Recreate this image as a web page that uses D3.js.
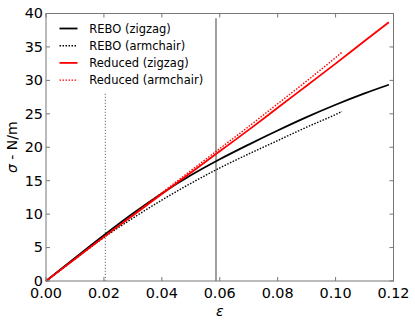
<!DOCTYPE html>
<html>
<head>
<meta charset="utf-8">
<script src="https://cdn.jsdelivr.net/npm/d3@7"></script>
<style>
  body { margin: 0; background: #fff; }
  text { font-family: "DejaVu Sans", sans-serif; }
</style>
</head>
<body>
<div id="chart"></div>
<script>
// strain values (x) and stress values (y)
var strainZigzag = [0, 0.01, 0.02, 0.03, 0.04, 0.05, 0.06, 0.07, 0.08, 0.09, 0.10, 0.11, 0.1184];
var reboZigzag = [0, 3.45, 6.85, 10.1, 13.1, 15.8, 18.2, 20.4, 22.5, 24.5, 26.35, 28.05, 29.35];
var reducedZigzag = [0, 3.3, 6.6, 9.8, 13.0, 16.2, 19.4, 22.6, 25.9, 29.2, 32.5, 35.9, 38.7];

var strainArmchair = [0, 0.01, 0.02, 0.03, 0.04, 0.05, 0.06, 0.07, 0.08, 0.09, 0.10, 0.1022];
var reboArmchair = [0, 3.3, 6.5, 9.4, 12.1, 14.6, 16.9, 19.0, 21.0, 23.0, 24.9, 25.35];
var reducedArmchair = [0, 3.3, 6.6, 9.9, 13.2, 16.5, 19.8, 23.1, 26.5, 29.9, 33.4, 34.2];

// vertical marker lines: [strain, top stress]
var markerDotted = [0.0205, 28.1];
var markerSolid = [0.0587, 39.3];

var xTicks = [0, 0.02, 0.04, 0.06, 0.08, 0.10, 0.12];
var yTicks = [0, 5, 10, 15, 20, 25, 30, 35, 40];

var series = [
  { name: "REBO (zigzag)", xs: strainZigzag, ys: reboZigzag, color: "#000", dash: null },
  { name: "REBO (armchair)", xs: strainArmchair, ys: reboArmchair, color: "#000", dash: "1.5,1.5" },
  { name: "Reduced (zigzag)", xs: strainZigzag, ys: reducedZigzag, color: "#f00", dash: null },
  { name: "Reduced (armchair)", xs: strainArmchair, ys: reducedArmchair, color: "#f00", dash: "1.5,1.5" }
];

var margin = { top: 13.5, right: 21.5, bottom: 44, left: 46 },
  width = 415 - margin.left - margin.right,
  height = 325 - margin.top - margin.bottom;

var x = d3.scaleLinear().domain([0, 0.12]).range([0, width]);
var y = d3.scaleLinear().domain([0, 40]).range([height, 0]);

var svg = d3.select("#chart").append("svg")
  .attr("width", 415)
  .attr("height", 325);

var g = svg.append("g")
  .attr("transform", "translate(" + margin.left + "," + margin.top + ")");

var line = d3.line()
  .x(function (d) { return x(d[0]); })
  .y(function (d) { return y(d[1]); })
  .curve(d3.curveMonotoneX);

// marker lines
g.append("line")
  .attr("x1", x(markerDotted[0])).attr("x2", x(markerDotted[0]))
  .attr("y1", y(0)).attr("y2", y(markerDotted[1]))
  .attr("stroke", "#888").attr("stroke-width", 1.2)
  .attr("stroke-dasharray", "1.2,1.8");
g.append("line")
  .attr("x1", x(markerSolid[0])).attr("x2", x(markerSolid[0]))
  .attr("y1", y(0)).attr("y2", y(markerSolid[1]))
  .attr("stroke", "#888").attr("stroke-width", 1.6);

// curves
series.forEach(function (s) {
  var pts = s.xs.map(function (v, i) { return [v, s.ys[i]]; });
  g.append("path")
    .attr("fill", "none")
    .attr("stroke", s.color)
    .attr("stroke-width", s.dash ? 1.4 : 1.8)
    .attr("stroke-dasharray", s.dash)
    .attr("d", line(pts));
});

// frame
g.append("rect")
  .attr("width", width).attr("height", height)
  .attr("fill", "none").attr("stroke", "#777").attr("stroke-width", 1);

// ticks on all four sides, pointing inward
var tickLen = 4;
xTicks.forEach(function (t) {
  g.append("line").attr("x1", x(t)).attr("x2", x(t)).attr("y1", height).attr("y2", height - tickLen).attr("stroke", "#777");
  g.append("line").attr("x1", x(t)).attr("x2", x(t)).attr("y1", 0).attr("y2", tickLen).attr("stroke", "#777");
  g.append("text")
    .attr("x", x(t)).attr("y", height + 16.5)
    .attr("text-anchor", "middle")
    .style("font-size", "14.4px")
    .text(d3.format(".2f")(t));
});
yTicks.forEach(function (t) {
  g.append("line").attr("x1", 0).attr("x2", tickLen).attr("y1", y(t)).attr("y2", y(t)).attr("stroke", "#777");
  g.append("line").attr("x1", width).attr("x2", width - tickLen).attr("y1", y(t)).attr("y2", y(t)).attr("stroke", "#777");
  g.append("text")
    .attr("x", -3).attr("y", y(t))
    .attr("dy", "0.34em")
    .attr("text-anchor", "end")
    .style("font-size", "14.4px")
    .text(t);
});

// axis labels
g.append("text")
  .attr("x", x(0.06)).attr("y", height + 35)
  .attr("text-anchor", "middle")
  .style("font-size", "14px")
  .style("font-style", "italic")
  .text("ε");

var yl = svg.append("text")
  .attr("transform", "translate(17," + (margin.top + y(20)) + ") rotate(-90)")
  .attr("text-anchor", "middle")
  .style("font-size", "14px");
yl.append("tspan").style("font-style", "italic").text("σ");
yl.append("tspan").text(" - N/m");

// legend
var legend = g.append("g");
series.forEach(function (s, i) {
  var ly = 15 + i * 17.2;
  legend.append("line")
    .attr("x1", 13.5).attr("x2", 31.5)
    .attr("y1", ly).attr("y2", ly)
    .attr("stroke", s.color)
    .attr("stroke-width", s.dash ? 1.4 : 1.8)
    .attr("stroke-dasharray", s.dash);
  legend.append("text")
    .attr("x", 43.3).attr("y", ly)
    .attr("dy", "0.36em")
    .style("font-size", "11.5px")
    .text(s.name);
});
</script>
</body>
</html>
